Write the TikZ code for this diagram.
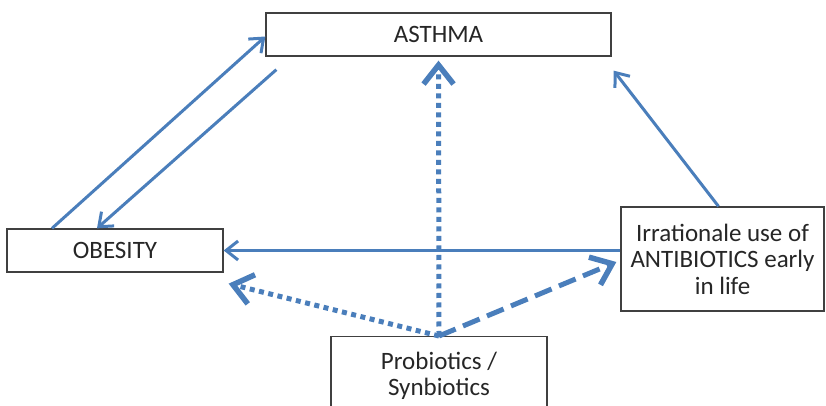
\documentclass[tikz,border=0pt]{standalone}
\usepackage{fontspec}
\setmainfont{Carlito}
\usepackage{xcolor}
\usepackage{tikz}
\usetikzlibrary{calc}
\usetikzlibrary{arrows.meta, positioning}

\definecolor{linkblue}{RGB}{74,126,187}

\begin{document}
\begin{tikzpicture}[x=1pt,y=1pt,
                    box node/.style={rectangle,draw=black!75,line width=1.3pt,fill=white,
                      align=center,inner sep=2pt,text=black!85,
                      font=\fontsize{25}{26.5}\selectfont},
                    solid link/.style={line width=3pt,draw=linkblue,
                      -{Straight Barb[length=12pt,width=19pt]}},
                    dot link/.style={line width=5pt,draw=linkblue,dash pattern=on 5pt off 4.5pt,
                      -{Straight Barb[length=19pt,width=30pt,line width=5.5pt]}},
                    dash link/.style={line width=5pt,draw=linkblue,dash pattern=on 18pt off 8pt,
                      -{Straight Barb[length=19pt,width=30pt,line width=5.5pt]}}]

  \useasboundingbox (0,0) rectangle (826,406);

  \node[box node,minimum width=345pt,minimum height=43pt] (asthma) at (438.5,371.5) {ASTHMA};
  \node[box node,minimum width=216pt,minimum height=43pt] (obesity) at (115,155.5) {OBESITY};
  \node[box node,minimum width=203pt,minimum height=104pt] (antibiotics) at (722.5,147)
    {Irrationale use of\\ANTIBIOTICS early\\in life};
  \node[box node,minimum width=216pt,minimum height=78pt,anchor=north] (probiotics) at (439,70)
    {Probiotics /\\Synbiotics};

  \coordinate (obesity tip) at ([shift={(5pt,-11pt)}]obesity.south east);
  \coordinate (antibiotics tip) at ([shift={(-4pt,-3pt)}]antibiotics.west);

  \path
    ([xshift=-63pt]obesity.north) edge[solid link] ([yshift=-2pt]asthma.west)
    ([shift={(11pt,-13pt)}]asthma.south west) edge[solid link] ([xshift=-18pt]obesity.north)
    ([xshift=-4pt]antibiotics.north) edge[solid link] ([shift={(2pt,-14pt)}]asthma.south east)
    (antibiotics.west |- obesity.east) edge[solid link] (obesity.east);

  \path
    (probiotics.north) edge[dot link,shorten >=4pt] (asthma.south)
                       edge[dot link] (obesity tip)
                       edge[dash link] (antibiotics tip);

\end{tikzpicture}
\end{document}
